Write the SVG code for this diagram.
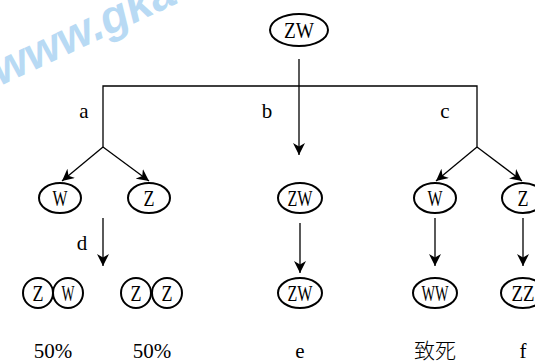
<svg xmlns="http://www.w3.org/2000/svg" width="535" height="364" viewBox="0 0 535 364">
<defs>
<marker id="ah" markerWidth="12" markerHeight="12" refX="10" refY="5" orient="auto" markerUnits="userSpaceOnUse" viewBox="0 0 10 10">
<path d="M0,0 L10,5 L0,10 L3,5 z" fill="#000"/>
</marker>
</defs>
<style>
.n ellipse, .n circle { fill: #fff; stroke: #000; stroke-width: 2; }
.g { font-family: "Liberation Serif", "Noto Sans CJK SC", serif; font-size: 23px; fill: #000; text-anchor: middle; }
.lbl { font-family: "Liberation Serif", "Noto Sans CJK SC", serif; font-size: 21px; fill: #000; text-anchor: middle; }
.c line, .c polyline { stroke: #000; stroke-width: 1.3; fill: none; }
.c .a { marker-end: url(#ah); }
.wm { font-family: "Liberation Sans", sans-serif; font-weight: bold; font-style: italic; font-size: 46px; fill: #b8daf4; }
</style>
<rect width="535" height="364" fill="#fff"/>
<text class="wm" transform="translate(0,86) rotate(-25)">www.gkao</text>
<g class="c">
<line x1="299" y1="59" x2="299" y2="155" class="a"/>
<polyline points="103,147 103,86 477,86 477,147"/>
<line x1="103" y1="147" x2="62" y2="181" class="a"/>
<line x1="103" y1="147" x2="149" y2="181" class="a"/>
<line x1="477" y1="147" x2="436" y2="181" class="a"/>
<line x1="477" y1="147" x2="522" y2="181" class="a"/>
<line x1="103" y1="218" x2="103" y2="266" class="a"/>
<line x1="300" y1="223" x2="300" y2="273" class="a"/>
<line x1="435" y1="218" x2="435" y2="266" class="a"/>
<line x1="523" y1="218" x2="523" y2="266" class="a"/>
</g>
<g id="root" class="n"><ellipse cx="299" cy="30" rx="29" ry="16"/><text class="g" x="299" y="38" textLength="30" lengthAdjust="spacingAndGlyphs" font-size="25">ZW</text></g>
<g id="w1" class="n"><ellipse cx="60" cy="198" rx="21" ry="15"/><text class="g" x="60" y="206" textLength="15" lengthAdjust="spacingAndGlyphs">W</text></g>
<g id="z1" class="n"><ellipse cx="149" cy="198" rx="21" ry="15"/><text class="g" x="149" y="206" textLength="11" lengthAdjust="spacingAndGlyphs">Z</text></g>
<g id="zw1" class="n"><ellipse cx="300" cy="198" rx="22" ry="15"/><text class="g" x="300" y="206" textLength="25" lengthAdjust="spacingAndGlyphs">ZW</text></g>
<g id="w2" class="n"><ellipse cx="435" cy="198" rx="21" ry="15"/><text class="g" x="435" y="206" textLength="15" lengthAdjust="spacingAndGlyphs">W</text></g>
<g id="z2" class="n"><ellipse cx="523" cy="198" rx="21" ry="15"/><text class="g" x="523" y="206" textLength="11" lengthAdjust="spacingAndGlyphs">Z</text></g>
<g id="zw_pair" class="n"><circle cx="38" cy="293" r="15"/><circle cx="68" cy="293" r="15"/><text class="g" x="38" y="301" textLength="11" lengthAdjust="spacingAndGlyphs">Z</text><text class="g" x="68" y="301" textLength="13" lengthAdjust="spacingAndGlyphs">W</text></g>
<g id="zz_pair" class="n"><circle cx="136" cy="293" r="15"/><circle cx="167" cy="293" r="15"/><text class="g" x="136" y="301" textLength="11" lengthAdjust="spacingAndGlyphs">Z</text><text class="g" x="167" y="301" textLength="11" lengthAdjust="spacingAndGlyphs">Z</text></g>
<g id="zw2" class="n"><ellipse cx="300" cy="293" rx="22" ry="15"/><text class="g" x="300" y="301" textLength="25" lengthAdjust="spacingAndGlyphs">ZW</text></g>
<g id="ww" class="n"><ellipse cx="435" cy="293" rx="22" ry="15"/><text class="g" x="435" y="301" textLength="27" lengthAdjust="spacingAndGlyphs">WW</text></g>
<g id="zz" class="n"><ellipse cx="523" cy="293" rx="22" ry="15"/><text class="g" x="523" y="301" textLength="23" lengthAdjust="spacingAndGlyphs">ZZ</text></g>
<g id="labels">
<text class="lbl" x="84" y="118">a</text>
<text class="lbl" x="267" y="118">b</text>
<text class="lbl" x="445" y="118">c</text>
<text class="lbl" x="82" y="250">d</text>
<text class="lbl" x="53" y="358">50%</text>
<text class="lbl" x="152" y="358">50%</text>
<text class="lbl" x="300" y="358">e</text>
<text class="lbl" x="435" y="358" font-weight="300">致死</text>
<text class="lbl" x="523" y="358">f</text>
</g>
</svg>
